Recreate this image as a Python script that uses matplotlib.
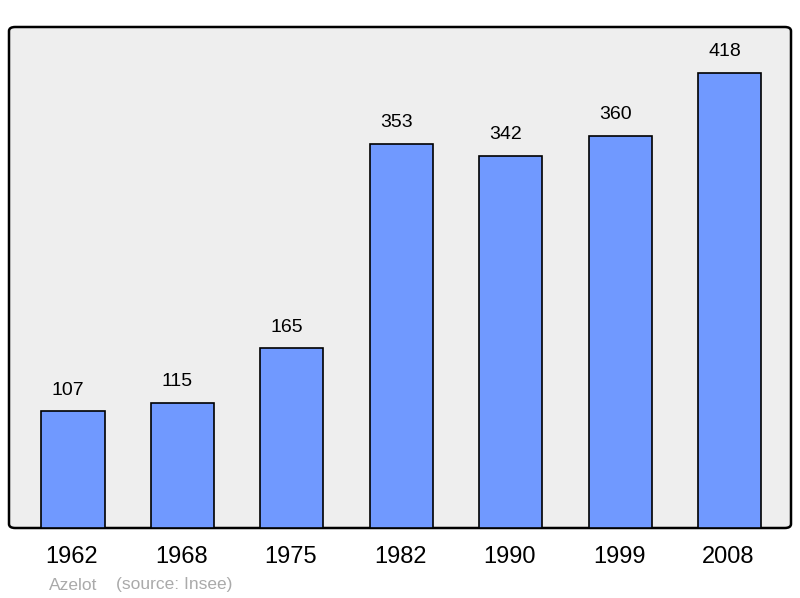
import matplotlib.pyplot as plt
from matplotlib.patches import FancyBboxPatch

years = ['1962', '1968', '1975', '1982', '1990', '1999', '2008']
population = [107, 115, 165, 353, 342, 360, 418]
commune = 'Azelot'
source = '(source: Insee)'

plt.rcParams['font.family'] = ['Liberation Sans', 'DejaVu Sans']

fig = plt.figure(figsize=(8, 5.98), dpi=100)
ax = fig.add_axes([9 / 800, 70 / 598, 782 / 800, 501 / 598])
ax.set_xlim(-0.585, 6.562)
ax.set_ylim(0, 460)
ax.axis('off')

# rounded panel
panel = FancyBboxPatch((0, 0), 1, 1, boxstyle='round,pad=0,rounding_size=0.008',
                       transform=ax.transAxes, facecolor='#eeeeee',
                       edgecolor='black', linewidth=1.8, clip_on=False, zorder=0)
ax.add_patch(panel)

x = range(len(years))
ax.bar(x, population, width=0.576, color='#7099ff', edgecolor='black',
       linewidth=1.2, zorder=2)

for i, v in enumerate(population):
    ax.annotate(str(v), (i, v), xytext=(-5, 21), textcoords='offset pixels',
                ha='center', va='center', fontsize=14, zorder=3)
    ax.annotate(years[i], (i, 0), xytext=(-1, -29), textcoords='offset pixels',
                ha='center', va='center', fontsize=17)

fig.text(49 / 800, 1 - 585 / 598, commune, color='#aaaaaa', fontsize=12.5,
         ha='left', va='center')
fig.text(116 / 800, 1 - 585 / 598, source, color='#aaaaaa', fontsize=12.5,
         ha='left', va='center')

fig.savefig('out.png', dpi=100)
